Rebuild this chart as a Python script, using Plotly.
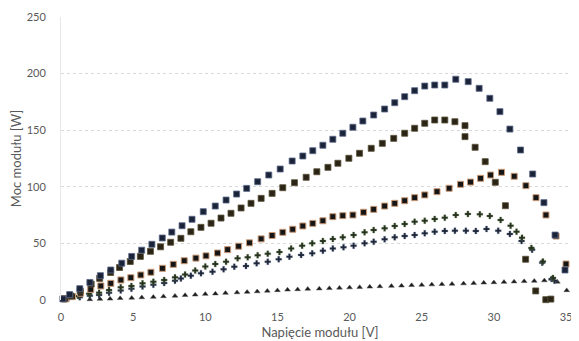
import plotly.graph_objects as go

# Series 1 - navy squares
v1 = [0.13, 0.6, 1.3, 2.0, 2.73, 3.45, 4.21, 4.90, 5.59, 6.30, 7.02, 7.68, 8.39, 9.08, 9.86, 10.69,
      11.44, 12.17, 12.87, 13.63, 14.40, 15.19, 16.02, 16.76, 17.45, 18.15, 18.84, 19.53, 20.23,
      20.92, 21.67, 22.43, 23.13, 23.82, 24.51, 25.21, 25.90, 26.60, 27.36, 28.22, 28.98, 29.72,
      30.42, 31.11, 31.85, 32.69, 33.47, 34.24, 34.93]
w1 = [1.0, 4.8, 10.0, 15.5, 21.5, 26.5, 32.5, 38.5, 44.0, 49.2, 54.8, 60.0, 65.6, 71.3, 78.0, 83.0,
      88.3, 93.6, 98.6, 104.5, 110.4, 115.7, 122.8, 127.2, 131.9, 136.7, 142.0, 147.3, 152.6,
      158.1, 163.4, 168.7, 174.3, 179.6, 184.9, 189.0, 189.9, 189.9, 195.0, 192.9, 187.0, 178.2,
      166.4, 151.0, 132.5, 111.3, 86.0, 57.4, 26.5]

# Series 2 - dark brown squares
v2 = [0.2, 0.69, 1.33, 2.09, 2.68, 3.44, 4.06, 4.80, 5.50, 6.20, 6.90, 7.60, 8.31, 9.00, 9.70, 10.40,
      11.09, 11.78, 12.48, 13.17, 13.87, 14.63, 15.37, 16.18, 16.99, 17.73, 18.50, 19.19, 19.95,
      20.69, 21.50, 22.27, 23.06, 23.82, 24.51, 25.21, 25.90, 26.60, 27.30, 28.00, 28.00, 28.70,
      29.40, 30.10, 30.80, 32.20, 32.90, 33.60, 33.95]
w2 = [1.0, 3.5, 8.0, 14.1, 19.1, 24.3, 28.7, 34.0, 38.5, 43.0, 47.0, 51.0, 54.5, 60.3, 64.2, 67.8,
      72.4, 76.6, 81.3, 85.4, 89.8, 94.2, 99.2, 103.6, 108.4, 113.3, 117.2, 120.8, 125.2,
      129.6, 134.0, 138.4, 142.8, 147.3, 151.7, 156.1, 159.0, 159.0, 157.5, 154.0, 144.3, 134.9,
      122.2, 104.0, 83.3, 36.0, 8.0, 0.3, 0.8]

# Series 3 - black squares with tan edge
v3 = [0.3, 0.8, 1.35, 2.06, 2.76, 3.45, 4.15, 4.84, 5.53, 6.23, 7.03, 7.78, 8.54, 9.35, 10.05, 10.85,
      11.55, 12.31, 13.06, 13.87, 14.63, 15.37, 16.06, 16.76, 17.45, 18.15, 18.84, 19.53, 20.23,
      20.97, 21.67, 22.43, 23.13, 23.82, 24.51, 25.21, 26.06, 26.90, 27.69, 28.38, 29.08, 29.77,
      30.53, 31.41, 32.22, 32.92, 33.61, 34.31, 35.00]
w3 = [1.0, 3.0, 6.0, 9.4, 12.4, 14.7, 17.7, 19.7, 22.1, 24.5, 28.0, 31.5, 34.7, 37.0, 39.0, 41.5,
      44.5, 47.5, 50.5, 54.0, 57.0, 59.8, 62.5, 65.4, 67.7, 70.0, 73.6, 74.5, 75.1,
      77.5, 80.1, 83.0, 85.4, 87.7, 90.4, 92.8, 95.7, 98.7, 102.2, 104.2, 107.5, 110.4,
      112.8, 109.3, 101.0, 90.4, 75.1, 56.5, 31.8]

# Series 4 - dark green crosses
v4 = [0.4, 1.2, 1.95, 2.64, 3.33, 4.14, 4.88, 5.65, 6.40, 7.15, 7.90, 8.60, 9.30, 10.00, 10.69, 11.44,
      12.24, 12.94, 13.63, 14.33, 15.14, 15.95, 16.71, 17.41, 18.15, 18.84, 19.53, 20.28, 21.04,
      21.67, 22.43, 23.13, 23.82, 24.51, 25.21, 25.90, 26.60, 27.36, 28.20, 29.03, 29.72, 30.47,
      31.16, 31.57, 31.95, 32.60, 33.40, 34.10]
w4 = [1.0, 3.5, 5.5, 6.5, 8.8, 11.2, 12.4, 14.7, 16.2, 17.7, 20.0, 22.5, 26.0, 29.5, 31.8, 33.8,
      36.8, 37.7, 39.5, 40.8, 42.3, 45.5, 48.0, 50.1, 52.1, 53.9, 55.4, 57.4, 59.8,
      61.8, 63.3, 65.4, 67.1, 69.2, 70.0, 71.6, 72.7, 75.1, 76.0, 75.7, 74.2, 70.7,
      65.6, 60.4, 55.0, 46.0, 34.0, 19.5]

# Series 5 - navy crosses
v5 = [0.5, 1.3, 2.0, 2.64, 3.33, 4.14, 4.88, 5.65, 6.40, 7.15, 7.90, 8.31, 9.00, 9.70, 10.50, 11.27,
      12.01, 12.82, 13.56, 14.33, 15.09, 15.83, 16.64, 17.41, 18.15, 18.84, 19.58, 20.28, 21.04,
      21.67, 22.43, 23.13, 23.82, 24.51, 25.21, 25.90, 26.60, 27.30, 28.06, 28.75, 29.49, 30.30,
      31.11, 31.92, 32.65, 33.35, 34.00, 34.20]
w5 = [1.0, 2.5, 3.8, 4.5, 6.5, 8.5, 10.0, 12.0, 13.5, 15.0, 17.0, 19.1, 21.5, 23.6, 25.0, 27.1,
      29.4, 30.0, 32.4, 33.8, 36.0, 38.3, 39.8, 41.2, 43.5, 45.5, 46.6, 48.0, 50.1,
      51.5, 53.6, 55.4, 56.5, 57.4, 58.9, 60.3, 61.0, 61.2, 61.2, 61.0, 62.7, 61.2,
      58.3, 52.1, 44.5, 33.0, 18.5, 17.0]

# Series 6 - black triangles
v6 = [2.0, 2.7, 3.4, 4.1, 4.9, 5.6, 6.4, 7.1, 7.9, 8.6, 9.3, 10.0, 10.7, 11.4, 12.2, 12.9, 13.6,
      14.3, 15.0, 15.7, 16.4, 17.1, 17.9, 18.6, 19.3, 20.0, 20.7, 21.4, 22.1, 22.9, 23.6, 24.3,
      25.0, 25.7, 26.4, 27.1, 27.9, 28.6, 29.3, 30.0, 30.7, 31.4, 32.1, 32.8, 33.5, 34.0, 34.4, 35.05]
w6 = [0.5, 0.8, 1.0, 1.5, 1.8, 2.2, 2.6, 3.2, 3.6, 4.2, 4.6, 5.2, 5.6, 6.1, 6.6, 7.0, 7.5,
      8.0, 8.5, 9.0, 9.3, 9.7, 10.0, 10.3, 10.7, 11.0, 11.3, 11.6, 12.0, 12.3, 12.6, 13.0,
      13.3, 13.6, 13.9, 14.2, 14.5, 14.9, 15.2, 15.5, 15.8, 16.2, 16.5, 16.8, 17.2, 18.5, 16.0, 8.5]

x_ticks = [0, 5, 10, 15, 20, 25, 30, 35]
y_ticks = [0, 50, 100, 150, 200, 250]

FONT = "Lato, Open Sans, sans-serif"

fig = go.Figure()

def add(v, w, symbol, size, fill, edge, ew):
    fig.add_trace(go.Scatter(
        x=v, y=w, mode="markers", cliponaxis=False, showlegend=False,
        marker=dict(symbol=symbol, size=size, color=fill,
                    line=dict(color=edge, width=ew))))

add(v6, w6, "triangle-up", 5, "#1a1a1a", "#555555", 0.5)
add(v5, w5, "cross", 5, "#1e2638", "#6f7f99", 0.3)
add(v4, w4, "cross", 5, "#26301f", "#6f8a60", 0.3)
add(v3, w3, "square", 6, "#151515", "#c99a78", 1)
add(v2, w2, "square", 6, "#2a2416", "#5a5038", 0.8)
add(v1, w1, "square", 6, "#1b2338", "#5a6888", 0.8)

# page body has an 8 px default margin, so the figure is sized to fit the remaining window
fig.update_layout(
    width=571, height=333,
    margin=dict(l=53, r=0, t=9, b=41, autoexpand=False),
    plot_bgcolor="white", paper_bgcolor="white",
    font=dict(family=FONT, color="#595959", size=11),
    xaxis=dict(
        range=[0, 35.9], tickvals=x_ticks, ticktext=[str(t) for t in x_ticks],
        showgrid=False, zeroline=False, showline=False, automargin=False,
        ticks="", ticklabelstandoff=9, tickfont=dict(size=11, color="#595959"),
        title=dict(text="Napięcie modułu [V]", font=dict(size=13, color="#595959"), standoff=5),
    ),
    yaxis=dict(
        range=[0, 250], tickvals=y_ticks, ticktext=[str(t) for t in y_ticks],
        showgrid=True, gridcolor="#d9d9d9", griddash="dot", gridwidth=1,
        zeroline=False, showline=True, linecolor="#e8e8e8", linewidth=1, automargin=False,
        ticks="", ticklabelstandoff=12, tickfont=dict(size=11, color="#595959"),
        title=dict(text="Moc modułu [W]", font=dict(size=13, color="#595959"), standoff=7),
    ),
)

fig.write_html("out.html")
